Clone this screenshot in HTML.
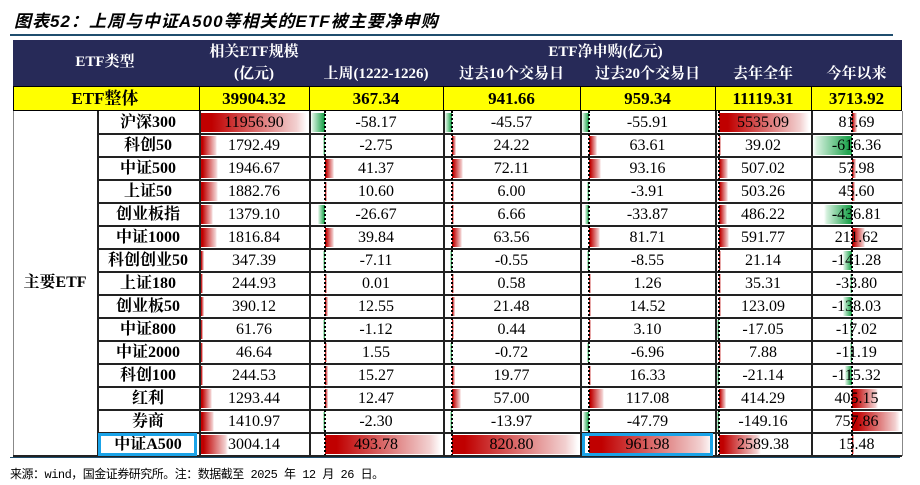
<!DOCTYPE html>
<html><head><meta charset="utf-8">
<style>
body{margin:0;width:920px;height:485px;background:#fff;position:relative;overflow:hidden;font-family:"Liberation Serif","Noto Serif CJK SC",serif;}
.a{position:absolute;box-sizing:border-box;}
.t{position:absolute;text-align:center;white-space:nowrap;line-height:19px;height:19px;}
</style></head><body>
<div class="t" style="left:14px;top:12px;font:italic bold 17px 'Liberation Sans','Noto Sans CJK SC',sans-serif;line-height:20px;text-align:left;letter-spacing:1px">图表52：上周与中证A500等相关的ETF被主要净申购</div>
<div class="a" style="left:10px;top:34px;width:883px;height:2px;background:#1f4e6e"></div>
<div class="a" style="left:10px;top:457px;width:890px;height:1px;background:#1f4e6e"></div>
<div class="t" style="left:10px;top:465px;font:12px 'Liberation Mono','Noto Sans CJK SC',monospace;text-align:left;letter-spacing:-0.5px">来源：wind，国金证券研究所。注：数据截至 2025 年 12 月 26 日。</div>
<div id="root"></div>
<script>
var X=[13,97,199,309,443,580,715,811,902];
var data=[
["沪深300",11956.90,-58.17,-45.57,-55.91,5535.09,81.69],
["科创50",1792.49,-2.75,24.22,63.61,39.02,-616.36],
["中证500",1946.67,41.37,72.11,93.16,507.02,57.98],
["上证50",1882.76,10.60,6.00,-3.91,503.26,45.60],
["创业板指",1379.10,-26.67,6.66,-33.87,486.22,-436.81],
["中证1000",1816.84,39.84,63.56,81.71,591.77,211.62],
["科创创业50",347.39,-7.11,-0.55,-8.55,21.14,-141.28],
["上证180",244.93,0.01,0.58,1.26,35.31,-33.80],
["创业板50",390.12,12.55,21.48,14.52,123.09,-138.03],
["中证800",61.76,-1.12,0.44,3.10,-17.05,-17.02],
["中证2000",46.64,1.55,-0.72,-6.96,7.88,-11.19],
["科创100",244.53,15.27,19.77,16.33,-21.14,-115.32],
["红利",1293.44,12.47,57.00,117.08,414.29,405.15],
["券商",1410.97,-2.30,-13.97,-47.79,-149.16,757.86],
["中证A500",3004.14,493.78,820.80,961.98,2589.38,15.48]];
var h='';
function box(x,y,w,hh,st){h+='<div class="a" style="left:'+x+'px;top:'+y+'px;width:'+w+'px;height:'+hh+'px;'+st+'"></div>';}
function txt(x,y,w,s,st){h+='<div class="t" style="left:'+x+'px;top:'+y+'px;width:'+w+'px;'+st+'">'+s+'</div>';}
var hb='font-weight:bold;color:#fff;font-size:15px;';
box(13,40,889,46,'background:#272a58');
txt(13,53,184,'ETF类型',hb);
txt(199,43,110,'相关ETF规模',hb);
txt(199,65,110,'(亿元)',hb);
txt(309,43,593,'ETF净申购(亿元)',hb);
var sub=['上周(1222-1226)','过去10个交易日','过去20个交易日','去年全年','今年以来'];
for(var i=0;i<5;i++)txt(X[i+3],65,X[i+4]-X[i+3],sub[i],hb);
box(13,86,889,25,'background:#ffff00;border:1px solid #000');
var yb='font-weight:bold;font-size:17px;';
txt(13,89,184,'ETF整体',yb);
var tot=['39904.32','367.34','941.66','959.34','11119.31','3713.92'];
for(i=0;i<6;i++){txt(X[i+2],89,X[i+3]-X[i+2],tot[i],yb);box(X[i+2],86,1,25,'background:#000');}
var y0=111,rh=23;
var sc=[];
for(var c=1;c<=6;c++){var mn=0,mx=0;data.forEach(function(r){mn=Math.min(mn,r[c]);mx=Math.max(mx,r[c]);});
 var L=X[c+1]+2,W=X[c+2]-X[c+1]-4;var ax=L+W*(-mn)/(mx-mn);sc.push([ax,W/(mx-mn)]);}
data.forEach(function(r,ri){
 var y=y0+ri*rh;
 txt(97,y+2,102,r[0],'font-weight:bold;font-size:16px;');
 for(var c=1;c<=6;c++){
  var ax=sc[c-1][0],k=sc[c-1][1],v=r[c],w=Math.abs(v)*k;
  if(v>0)box(ax,y+2,Math.max(w,2),rh-4,'background:linear-gradient(90deg,#c00000,#c00000 10%,#f2d0d0 90%,#fff)');
  else if(v<0)box(ax-Math.max(w,2),y+2,Math.max(w,2),rh-4,'background:linear-gradient(270deg,#22a550,#22a550 10%,#d4f0dd 90%,#fff)');
  txt(X[c+1],y+2,X[c+2]-X[c+1],v.toFixed(2),'font-size:16px;');
 }
 box(97,y+rh-1,805,2,'background:#222');
});
for(c=2;c<=6;c++){h+='<div class="a" style="left:'+(Math.round(sc[c-1][0])-1)+'px;top:111px;height:345px;width:0;border-left:2px dotted #000"></div>';}
for(i=1;i<9;i++)box(X[i],111,i==8?1:2,345,'background:'+(i==8?'#888':'#222'));
box(13,111,1,345,'background:#888');
box(13,455,889,2,'background:#222');
txt(13,273,84,'主要ETF','font-weight:bold;font-size:16px;');
var ly=y0+14*rh;
box(98,ly,99,rh,'border:3px solid #1aa3e8');
box(582,ly,131,rh,'border:3px solid #1aa3e8');
document.getElementById('root').innerHTML=h;
</script>
</body></html>
